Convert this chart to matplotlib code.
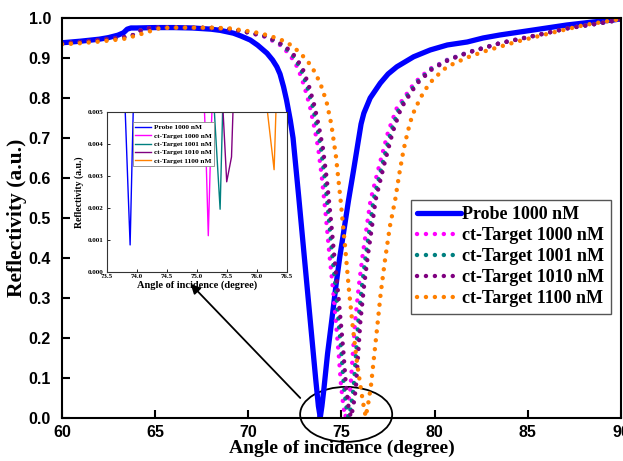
import matplotlib
matplotlib.use("Agg")
import matplotlib.pyplot as plt
from matplotlib.patches import Ellipse

# ---- main curves (angle in degree, reflectivity in a.u.) ----
ang_probe = [60.0, 61.0, 62.0, 62.5, 63.0, 63.3, 63.5, 63.7, 64.0, 65.0,
             66.0, 67.0, 68.0, 68.5, 69.2, 69.6, 70.1, 70.5, 71.0, 71.3,
             71.53, 71.7, 71.89, 72.05, 72.25, 72.4, 72.7, 73.05, 73.4, 73.62,
             73.76, 73.86, 73.95, 74.05, 74.25, 74.48, 74.7, 74.9, 75.1, 75.38,
             75.65, 75.91, 76.05, 76.2, 76.54, 77.08, 77.5, 77.97, 78.87, 79.76,
             80.68, 81.75, 82.6, 83.5, 85.3, 87.1, 88.5, 89.6, 90.0]
refl_probe = [0.938, 0.942, 0.947, 0.951, 0.957, 0.963, 0.972, 0.975, 0.975, 0.976,
              0.976, 0.975, 0.972, 0.969, 0.962, 0.955, 0.945, 0.932, 0.912, 0.895,
              0.878, 0.86, 0.828, 0.795, 0.745, 0.70, 0.555, 0.38, 0.205, 0.095,
              0.03, 0.001, 0.03, 0.07, 0.16, 0.245, 0.33, 0.40, 0.46, 0.545,
              0.62, 0.695, 0.735, 0.762, 0.80, 0.837, 0.86, 0.878, 0.903, 0.92,
              0.9325, 0.94, 0.95, 0.9575, 0.97, 0.9825, 0.99, 0.995, 0.998]

# pink, teal and purple targets share the same reflectivity levels
refl_ct = [0.936, 0.940, 0.945, 0.950, 0.953, 0.957, 0.966, 0.973, 0.976, 0.976,
           0.975, 0.972, 0.964, 0.953, 0.930, 0.905, 0.875, 0.830, 0.780, 0.725,
           0.675, 0.600, 0.510, 0.410, 0.320, 0.240, 0.160, 0.085, 0.030, 0.002,
           0.025, 0.075, 0.240, 0.330, 0.405, 0.470, 0.545, 0.630, 0.715, 0.775,
           0.810, 0.837, 0.872, 0.895, 0.914, 0.937, 0.955, 0.974, 0.987, 0.996]
ang_t1000 = [60.0, 61.0, 62.0, 63.0, 63.5, 63.8, 64.1, 64.4, 65.0, 66.0,
             68.0, 69.0, 69.95, 70.92, 71.8, 72.27, 72.66, 73.0, 73.3, 73.55,
             73.75, 73.95, 74.15, 74.35, 74.55, 74.7, 74.85, 74.97, 75.1, 75.2,
             75.33, 75.48, 75.73, 75.93, 76.13, 76.33, 76.56, 77.02, 77.5, 77.97,
             78.5, 78.9, 79.72, 80.65, 81.77, 83.48, 85.3, 87.1, 88.9, 90.0]
ang_t1001 = [60.0, 61.0, 62.0, 63.0, 63.5, 63.8, 64.1, 64.4, 65.0, 66.0,
             68.0, 69.0, 70.0, 71.0, 71.9, 72.4, 72.8, 73.15, 73.45, 73.7,
             73.9, 74.1, 74.3, 74.5, 74.7, 74.85, 75.0, 75.12, 75.25, 75.38,
             75.5, 75.65, 75.9, 76.1, 76.3, 76.5, 76.72, 77.17, 77.65, 78.1,
             78.6, 79.0, 79.8, 80.7, 81.8, 83.5, 85.3, 87.1, 88.9, 90.0]
ang_t1010 = [60.0, 61.0, 62.0, 63.0, 63.5, 63.8, 64.1, 64.4, 65.0, 66.0,
             68.0, 69.0, 70.03, 71.05, 71.97, 72.49, 72.9, 73.25, 73.55, 73.8,
             74.0, 74.2, 74.4, 74.6, 74.8, 74.96, 75.11, 75.23, 75.37, 75.5,
             75.62, 75.77, 76.01, 76.21, 76.41, 76.61, 76.83, 77.27, 77.75, 78.2,
             78.68, 79.07, 79.86, 80.75, 81.83, 83.52, 85.3, 87.1, 88.9, 90.0]

ang_t1100 = [60.0, 61.0, 62.0, 63.0, 63.5, 64.0, 64.5, 64.9, 65.3, 66.0,
             68.0, 69.0, 70.0, 70.63, 71.3, 72.06, 72.6, 73.14, 73.5, 73.86,
             74.2, 74.45, 74.7, 74.95, 75.2, 75.4, 75.6, 75.8, 76.0, 76.15,
             76.3, 76.43, 76.58, 76.9, 77.1, 77.32, 77.6, 77.88, 78.1, 78.33,
             78.55, 78.8, 79.23, 79.6, 79.94, 80.66, 81.73, 82.63, 84.42, 86.2,
             88.0, 89.0, 90.0]
refl_t1100 = [0.934, 0.937, 0.941, 0.946, 0.949, 0.957, 0.963, 0.970, 0.975, 0.976,
              0.976, 0.974, 0.967, 0.962, 0.953, 0.940, 0.920, 0.895, 0.870, 0.837,
              0.790, 0.735, 0.655, 0.545, 0.425, 0.320, 0.230, 0.150, 0.085, 0.040,
              0.003, 0.035, 0.080, 0.220, 0.310, 0.390, 0.480, 0.545, 0.610, 0.670,
              0.715, 0.757, 0.800, 0.828, 0.848, 0.878, 0.901, 0.916, 0.941, 0.962,
              0.982, 0.990, 0.997]

# ---- inset: zoom on the resonance minima ----
in_ang_probe = [73.78, 73.86, 73.89, 73.92, 73.96]
in_refl_probe = [0.0065, 0.00235, 0.00084, 0.0033, 0.0065]
in_ang_t1000 = [75.10, 75.15, 75.193, 75.235, 75.28]
in_refl_t1000 = [0.0065, 0.0040, 0.00113, 0.0040, 0.0065]
in_ang_t1001 = [75.25, 75.31, 75.39, 75.425, 75.45]
in_refl_t1001 = [0.0065, 0.0045, 0.00196, 0.0045, 0.0065]
in_ang_t1010 = [75.40, 75.44, 75.50, 75.58, 75.63]
in_refl_t1010 = [0.0065, 0.0050, 0.00282, 0.0036, 0.0065]
in_ang_t1100 = [76.12, 76.18, 76.29, 76.32, 76.36]
in_refl_t1100 = [0.0065, 0.0050, 0.0032, 0.0050, 0.0065]

labels = ["Probe 1000 nM", "ct-Target 1000 nM", "ct-Target 1001 nM",
          "ct-Target 1010 nM", "ct-Target 1100 nM"]
colors = ["#0000ff", "#ff00ff", "#008080", "#800080", "#ff8000"]

SERIF = "Liberation Serif"
SANS = "Liberation Sans"

fig = plt.figure(figsize=(6.23, 4.61), dpi=100)
ax = fig.add_axes([0.0995, 0.0933, 0.8973, 0.8677])

ax.plot(ang_probe, refl_probe, color=colors[0], lw=3.8, label=labels[0],
        solid_capstyle="round", solid_joinstyle="round")
dot_style = dict(lw=3.2, linestyle=(0, (0.01, 2.0)), dash_capstyle="round")
ax.plot(ang_t1000, refl_ct, color=colors[1], label=labels[1], **dot_style)
ax.plot(ang_t1001, refl_ct, color=colors[2], label=labels[2], **dot_style)
ax.plot(ang_t1010, refl_ct, color=colors[3], label=labels[3], **dot_style)
ax.plot(ang_t1100, refl_t1100, color=colors[4], label=labels[4], **dot_style)

ax.set_xlim(60, 90)
ax.set_ylim(0, 1.0)
ax.set_xticks(range(60, 91, 5))
ax.set_yticks([i / 10 for i in range(11)])
ax.set_yticklabels([f"{i / 10:.1f}" for i in range(11)])
ax.tick_params(direction="in", length=6, width=1.5, top=False, right=False)
ax.tick_params(axis="x", pad=5)
ax.tick_params(axis="y", pad=8)
for lab in ax.get_xticklabels() + ax.get_yticklabels():
    lab.set_fontfamily(SANS)
    lab.set_fontweight("bold")
    lab.set_fontsize(11.5)
for sp in ax.spines.values():
    sp.set_linewidth(1.5)
ax.set_xlabel("Angle of incidence (degree)", fontfamily=SERIF, fontweight="bold",
              fontsize=14, labelpad=0)
ax.set_ylabel("Reflectivity (a.u.)", fontfamily=SERIF, fontweight="bold",
              fontsize=15.5, labelpad=1)

leg = ax.legend(loc="upper left", bbox_to_anchor=(411 / 623, 1 - 200 / 461),
                bbox_transform=fig.transFigure, borderaxespad=0,
                prop=dict(family=SERIF, weight="bold", size=13),
                handlelength=2.4, handletextpad=0.1, labelspacing=0.22,
                borderpad=0.35, fancybox=False, framealpha=1)
leg.get_frame().set_edgecolor("#555555")
leg.get_frame().set_linewidth(1.0)

# ellipse around the minima and arrow to the inset
ELL_CENTER = (75.25, 0.009)
ELL_W, ELL_H = 4.94, 0.1375
ax.add_patch(Ellipse(ELL_CENTER, ELL_W, ELL_H, fill=False, color="black",
                     lw=1.3, clip_on=False))
ax.annotate("", xy=(66.8, 0.34), xytext=(72.89, 0.045),
            arrowprops=dict(arrowstyle="-|>", color="black", lw=1.3,
                            mutation_scale=14))

# inset
ins = fig.add_axes([0.1713, 0.4106, 0.2889, 0.3458])
ins.plot(in_ang_probe, in_refl_probe, color=colors[0], lw=1.0, label=labels[0])
ins.plot(in_ang_t1000, in_refl_t1000, color=colors[1], lw=1.0, label=labels[1])
ins.plot(in_ang_t1001, in_refl_t1001, color=colors[2], lw=1.0, label=labels[2])
ins.plot(in_ang_t1010, in_refl_t1010, color=colors[3], lw=1.0, label=labels[3])
ins.plot(in_ang_t1100, in_refl_t1100, color=colors[4], lw=1.0, label=labels[4])
ins.set_xlim(73.5, 76.5)
ins.set_ylim(0, 0.005)
ins.set_xticks([73.5 + 0.5 * i for i in range(7)])
ins.set_xticklabels([f"{73.5 + 0.5 * i:.1f}" for i in range(7)])
ins.set_yticks([0.001 * i for i in range(6)])
ins.set_yticklabels([f"{0.001 * i:.3f}" for i in range(6)])
ins.tick_params(direction="in", length=2, width=0.6, top=False, right=False, pad=2)
for lab in ins.get_xticklabels() + ins.get_yticklabels():
    lab.set_fontfamily(SERIF)
    lab.set_fontweight("bold")
    lab.set_fontsize(5)
for sp in ins.spines.values():
    sp.set_linewidth(0.8)
    sp.set_color("#333333")
ins.set_xlabel("Angle of incidence (degree)", fontfamily=SERIF, fontweight="bold",
               fontsize=7.5, labelpad=1)
ins.set_ylabel("Reflectivity (a.u.)", fontfamily=SERIF, fontweight="bold",
               fontsize=7, labelpad=3)
ileg = ins.legend(loc="upper left", bbox_to_anchor=(133 / 623, 1 - 122 / 461),
                  bbox_transform=fig.transFigure, borderaxespad=0,
                  prop=dict(family=SERIF, weight="bold", size=5.3),
                  handlelength=2.2, handletextpad=0.4, labelspacing=0.3,
                  borderpad=0.3, fancybox=False, framealpha=1)
ileg.get_frame().set_edgecolor("#888888")
ileg.get_frame().set_linewidth(0.6)

fig.savefig("out.png", dpi=100)
